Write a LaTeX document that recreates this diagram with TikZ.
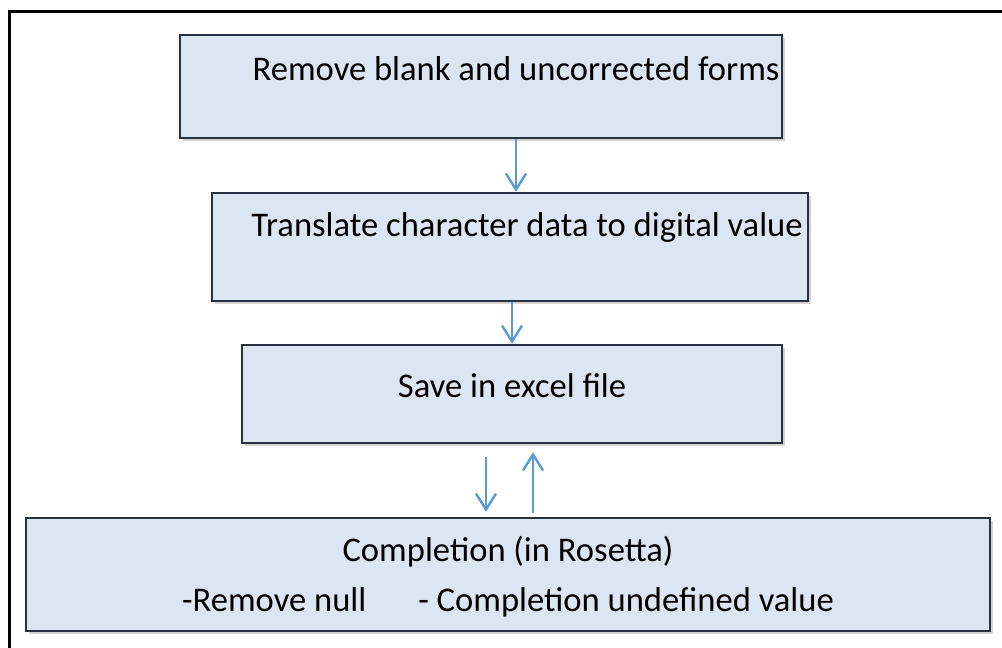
\documentclass[tikz,border=0pt]{standalone}
\usepackage{fontspec}
\setmainfont{Carlito}
\usetikzlibrary{arrows.meta,shadows}

\definecolor{boxfill}{RGB}{220,230,242}
\definecolor{boxline}{RGB}{38,50,66}
\definecolor{flowblue}{RGB}{91,155,213}

\tikzset{
  stepbox/.style={draw=boxline, line width=1.2pt, fill=boxfill, inner sep=0pt,
    align=center, font=\fontsize{17.3}{25}\selectfont,
    drop shadow={shadow xshift=1.5pt, shadow yshift=-1.5pt, opacity=0.35}},
  flow/.style={draw=flowblue, line width=1.2pt, -{Straight Barb[length=8pt,width=10pt,line width=1.2pt]}}
}

\begin{document}
\begin{tikzpicture}[x=0.5pt, y=-0.5pt]
  \useasboundingbox (0,0) rectangle (1002,648);
  \draw[line width=1.5pt] (9,648) |- (1002,11);

  \node[stepbox, minimum width=301pt, text height=22.5pt, text depth=29pt] (remove) at (481,86.5)
    {\hspace*{35pt}Remove blank and uncorrected forms};
  \node[stepbox, minimum width=298pt, text height=21.5pt, text depth=32.5pt] (translate) at (510,247)
    {\hspace*{17pt}Translate character data to digital value};
  \node[stepbox, minimum width=270pt, text height=26pt, text depth=23pt] (save) at (512,394)
    {Save in excel file};
  \node[stepbox, minimum width=482pt, text height=46.5pt, text depth=10pt] (complete) at (508,574.5)
    {Completion (in Rosetta)\\-Remove null\hspace{26pt}- Completion undefined value};

  \draw[flow] ([xshift=3pt]translate.north |- remove.south) -- ([xshift=3pt]translate.north);
  \draw[flow] (save.north |- translate.south) -- (save.north);
  \draw[flow, shorten <=6.5pt, shorten >=2.5pt] ([xshift=-13pt]save.south) -- ([xshift=-13pt]save.south |- complete.north);
  \draw[flow, shorten <=2pt, shorten >=4pt] ([xshift=10.5pt]complete.north -| save.south) -- ([xshift=10.5pt]save.south);
\end{tikzpicture}
\end{document}
